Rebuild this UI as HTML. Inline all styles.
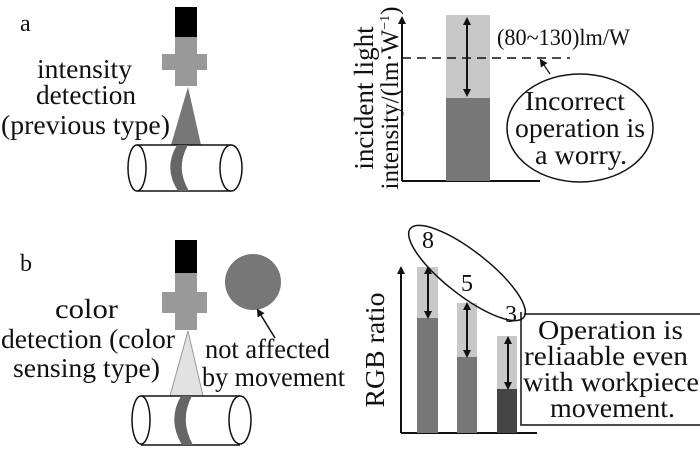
<!DOCTYPE html>
<html><head><meta charset="utf-8"><style>
html,body{margin:0;padding:0;background:#fff;}
svg{display:block;}
svg text{font-family:"Liberation Serif","Times New Roman","Noto Serif CJK SC","DejaVu Serif",serif;}
</style></head><body>
<svg width="700" height="450" viewBox="0 0 700 450" xmlns="http://www.w3.org/2000/svg" fill="#111">
<defs>
<marker id="ah" markerWidth="8" markerHeight="8" refX="4" refY="4" orient="auto-start-reverse" markerUnits="userSpaceOnUse"><path d="M0,0 L8,4 L0,8 z" fill="#111"/></marker>
</defs>
<text x="20" y="31" font-size="24">a</text>
<rect x="175" y="7" width="22" height="30" fill="#000"/>
<rect x="175" y="37" width="22" height="49" fill="#999"/>
<rect x="162" y="54" width="45" height="16" fill="#999"/>
<polygon points="188,87 171,145 201,145" fill="#777"/>
<path d="M137,145 L231,145 M137,191 L231,191" stroke="#111" stroke-width="1.5" fill="none"/>
<ellipse cx="137" cy="168" rx="9" ry="23" fill="#fff" stroke="#111" stroke-width="1.5"/>
<ellipse cx="231" cy="168" rx="11" ry="23" fill="#fff" stroke="#111" stroke-width="1.5"/>
<path d="M177,145 Q163,168 178,191 L189,191 Q175,168 188,145 z" fill="#666"/>
<g font-size="27">
<text x="37" y="78" textLength="95" lengthAdjust="spacingAndGlyphs">intensity</text>
<text x="36" y="104" textLength="100" lengthAdjust="spacingAndGlyphs">detection</text>
<text x="1" y="134" textLength="169" lengthAdjust="spacingAndGlyphs">(previous type)</text>
</g>
<line x1="402" y1="181" x2="402" y2="20" stroke="#111" stroke-width="2" marker-end="url(#ah)"/>
<line x1="402" y1="181" x2="540" y2="181" stroke="#111" stroke-width="2"/>
<rect x="446" y="15" width="44" height="83" fill="#c8c8c8"/>
<rect x="446" y="98" width="44" height="83" fill="#777"/>
<line x1="402" y1="58" x2="570" y2="58" stroke="#111" stroke-width="1.5" stroke-dasharray="9,6"/>
<line x1="467" y1="21" x2="467" y2="93" stroke="#111" stroke-width="2" marker-start="url(#ah)" marker-end="url(#ah)"/>
<text x="497" y="45" font-size="23" textLength="133" lengthAdjust="spacingAndGlyphs">(80~130)lm/W</text>
<ellipse cx="580" cy="128" rx="73" ry="54" fill="#fff" stroke="#111" stroke-width="1.5"/>
<line x1="550" y1="74" x2="542" y2="62" stroke="#111" stroke-width="1.2" marker-end="url(#ah)"/>
<g font-size="27">
<text x="525" y="110" textLength="100" lengthAdjust="spacingAndGlyphs">Incorrect</text>
<text x="515" y="137" textLength="130" lengthAdjust="spacingAndGlyphs">operation is</text>
<text x="535" y="164" textLength="92" lengthAdjust="spacingAndGlyphs">a worry.</text>
<text transform="translate(373,98) rotate(-90)" text-anchor="middle">incident light</text>
<text transform="translate(398,98) rotate(-90)" text-anchor="middle" font-size="25">intensity/(lm·W<tspan font-size="14" dy="-9">−1</tspan><tspan dy="9">)</tspan></text>
</g>
<text x="20" y="271" font-size="24">b</text>
<rect x="175" y="240" width="22" height="33" fill="#000"/>
<rect x="175" y="273" width="22" height="57" fill="#999"/>
<rect x="162" y="292" width="45" height="21" fill="#999"/>
<polygon points="188,331 170,396 203,396" fill="#e2e2e2" stroke="#999" stroke-width="1"/>
<path d="M141,396 L240,396 M141,445 L240,445" stroke="#111" stroke-width="1.5" fill="none"/>
<ellipse cx="141" cy="420" rx="9" ry="24" fill="#fff" stroke="#111" stroke-width="1.5"/>
<ellipse cx="240" cy="420" rx="11" ry="24" fill="#fff" stroke="#111" stroke-width="1.5"/>
<path d="M181,396 Q167,420 182,445 L193,445 Q179,420 192,396 z" fill="#666"/>
<circle cx="253" cy="282" r="28" fill="#777"/>
<line x1="275" y1="338" x2="259" y2="312" stroke="#111" stroke-width="1.5" marker-end="url(#ah)"/>
<g font-size="27">
<text x="55" y="318" textLength="63" lengthAdjust="spacingAndGlyphs">color</text>
<text x="1" y="348" textLength="174" lengthAdjust="spacingAndGlyphs">detection (color</text>
<text x="13" y="377" textLength="147" lengthAdjust="spacingAndGlyphs">sensing type)</text>
<text x="205" y="358" textLength="125" lengthAdjust="spacingAndGlyphs">not affected</text>
<text x="202" y="386" textLength="143" lengthAdjust="spacingAndGlyphs">by movement</text>
</g>
<line x1="401" y1="433" x2="401" y2="270" stroke="#111" stroke-width="2" marker-end="url(#ah)"/>
<line x1="401" y1="433" x2="537" y2="433" stroke="#111" stroke-width="2"/>
<rect x="417" y="267" width="21" height="51" fill="#c8c8c8"/>
<rect x="417" y="318" width="21" height="115" fill="#777"/>
<rect x="457" y="303" width="20" height="54" fill="#c8c8c8"/>
<rect x="457" y="357" width="20" height="76" fill="#777"/>
<rect x="497" y="336" width="20" height="53" fill="#c8c8c8"/>
<rect x="497" y="389" width="20" height="44" fill="#444"/>
<line x1="428" y1="270" x2="428" y2="315" stroke="#111" stroke-width="2" marker-start="url(#ah)" marker-end="url(#ah)"/>
<line x1="467" y1="306" x2="467" y2="354" stroke="#111" stroke-width="2" marker-start="url(#ah)" marker-end="url(#ah)"/>
<line x1="508" y1="340" x2="508" y2="386" stroke="#111" stroke-width="2" marker-start="url(#ah)" marker-end="url(#ah)"/>
<ellipse cx="467" cy="273" rx="72" ry="22" transform="rotate(38 467 273)" fill="none" stroke="#111" stroke-width="1.5"/>
<path d="M521,312 L521,425 L700,425 M524,314 L700,314" stroke="#111" stroke-width="1.5" fill="none"/>
<g font-size="24" text-anchor="middle">
<text x="428" y="248">8</text>
<text x="467" y="291">5</text>
<text x="511" y="322">3</text>
</g>
<g font-size="27">
<text transform="translate(384,350) rotate(-90)" text-anchor="middle" textLength="115" lengthAdjust="spacingAndGlyphs">RGB ratio</text>
<text x="538" y="339" textLength="145" lengthAdjust="spacingAndGlyphs">Operation is</text>
<text x="524" y="365" textLength="164" lengthAdjust="spacingAndGlyphs">reliaable even</text>
<text x="523" y="391" textLength="176" lengthAdjust="spacingAndGlyphs">with workpiece</text>
<text x="550" y="417" textLength="125" lengthAdjust="spacingAndGlyphs">movement.</text>
</g>
</svg>
</body></html>
